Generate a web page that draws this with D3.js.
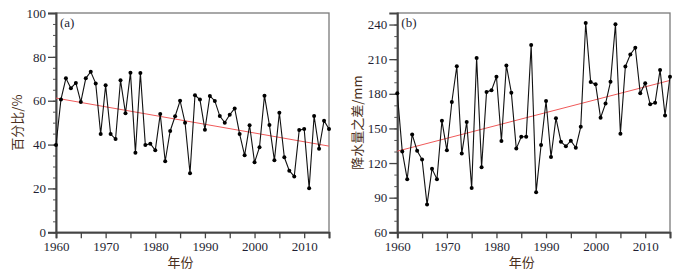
<!DOCTYPE html>
<html><head><meta charset="utf-8">
<script src="https://cdn.jsdelivr.net/npm/d3@7"></script>
<style>
body{margin:0;background:#fff;}
svg{display:block;}
</style></head>
<body>
<svg id="c" width="682" height="272"></svg>
<script>
const years = d3.range(1960, 2016);
const pctValues = [39.8,60.6,70.2,65.7,68.1,59.4,70.2,73.2,67.9,44.8,
  67.0,44.8,42.5,69.3,54.3,72.8,36.3,72.6,39.8,40.4,
  37.4,53.9,32.4,46.2,52.9,60.0,50.0,26.9,62.5,60.5,
  46.8,62.2,59.9,53.0,50.0,53.6,56.5,44.8,35.1,48.8,
  31.9,38.8,62.3,48.9,32.8,54.5,34.2,28.1,25.5,46.6,
  47.1,20.1,53.0,38.1,50.9,47.1];
const precipDiff = [180.4,130.1,106.0,144.8,130.7,123.0,84.0,115.0,106.0,156.6,
  131.0,172.9,203.9,128.2,155.5,98.3,211.1,116.4,181.6,183.0,
  194.8,139.1,204.6,181.0,132.5,142.8,142.8,222.2,94.6,135.6,
  173.8,125.3,158.9,138.5,134.5,139.4,133.3,151.4,241.3,190.2,
  188.2,159.2,171.5,190.4,240.3,145.4,203.7,214.0,220.0,180.4,
  189.2,170.9,172.3,200.7,161.3,194.8];
const trendYears = [1960, 2015];
const pctTrend = [61.2, 39.3];
const precipTrend = [130.3, 191.6];
const xTicks = [1960,1970,1980,1990,2000,2010];
const pctTicks = [0,20,40,60,80,100];
const precipTicks = [60,90,120,150,180,210,240];

const svg = d3.select("#c");
const numFont = "'Liberation Serif','DejaVu Serif',serif";
const cjkFont = "'Noto Sans CJK SC','Liberation Serif',serif";
const titleColor = "#4a3020";
const tickColor = "#1f1f33";

function panel(opt){
  const {left,right,top,bottom,yDomain,yTicks,yMinor,values,trend,label,yTitle,titleX} = opt;
  const x = d3.scaleLinear().domain([1960,2015]).range([left,right]);
  const y = d3.scaleLinear().domain(yDomain).range([bottom,top]);
  const g = svg.append("g");
  // frame (top/right)
  g.append("rect").attr("x",left).attr("y",top).attr("width",right-left).attr("height",bottom-top)
    .attr("fill","none").attr("stroke","#7a7a7a").attr("stroke-width",1.3);
  // y minor ticks
  const yAxisMinor = d3.axisLeft(y).tickValues(d3.range(yDomain[0], yDomain[1]+0.001, yMinor))
    .tickSize(3).tickFormat("");
  g.append("g").attr("transform",`translate(${left},0)`).call(yAxisMinor)
    .call(s=>s.select(".domain").remove())
    .selectAll("line").attr("stroke","#555").attr("stroke-width",1);
  // y major
  const yAxis = d3.axisLeft(y).tickValues(yTicks).tickSize(8).tickPadding(2).tickFormat(d3.format("d"));
  const ya = g.append("g").attr("transform",`translate(${left},0)`).call(yAxis);
  ya.select(".domain").attr("stroke","#444").attr("stroke-width",2);
  ya.selectAll("line").attr("stroke","#444").attr("stroke-width",1.3);
  ya.selectAll("text").attr("font-family",numFont).attr("font-size",13).attr("fill",tickColor);
  // x axis
  const xAxis = d3.axisBottom(x).tickValues(d3.range(1960,2016,5)).tickSize(6).tickPadding(3)
    .tickFormat(d=> xTicks.includes(d) ? d : "");
  const xa = g.append("g").attr("transform",`translate(0,${bottom})`).call(xAxis);
  xa.select(".domain").attr("stroke","#444").attr("stroke-width",2);
  xa.selectAll("line").attr("stroke","#444").attr("stroke-width",1.3);
  xa.selectAll("text").attr("font-family",numFont).attr("font-size",13).attr("fill",tickColor);
  // trend
  g.append("line").attr("x1",x(trendYears[0])).attr("y1",y(trend[0]))
    .attr("x2",x(trendYears[1])).attr("y2",y(trend[1]))
    .attr("stroke","#f05a5a").attr("stroke-width",1);
  // series
  const line = d3.line().x((d,i)=>x(years[i])).y(d=>y(d));
  g.append("path").datum(values).attr("d",line).attr("fill","none")
    .attr("stroke","#111").attr("stroke-width",1.1);
  g.selectAll("circle.pt").data(values).join("circle").attr("class","pt")
    .attr("cx",(d,i)=>x(years[i])).attr("cy",d=>y(d)).attr("r",2).attr("fill","#000");
  // panel label
  g.append("text").attr("x",left+4).attr("y",top+14).text(label)
    .attr("font-family",numFont).attr("font-size",13).attr("fill",tickColor);
  // x title
  g.append("text").attr("x",(left+right)/2-12).attr("y",267).attr("text-anchor","middle")
    .attr("font-family",cjkFont).attr("font-size",13).attr("fill",titleColor).text("年份");
  // y title
  g.append("text").attr("transform",`translate(${titleX},${(top+bottom)/2}) rotate(-90)`)
    .attr("text-anchor","middle").attr("dominant-baseline","central")
    .attr("font-family",cjkFont).attr("font-size",13).attr("fill",titleColor).text(yTitle);
}

panel({left:56,right:329,top:13,bottom:232.3,yDomain:[0,100],yTicks:pctTicks,yMinor:5,
  values:pctValues,trend:pctTrend,label:"(a)",yTitle:"百分比/%",titleX:16});
panel({left:397.3,right:670,top:13,bottom:232.3,yDomain:[60,250],yTicks:precipTicks,yMinor:10,
  values:precipDiff,trend:precipTrend,label:"(b)",yTitle:"降水量之差/mm",titleX:356});
</script>
</body></html>
